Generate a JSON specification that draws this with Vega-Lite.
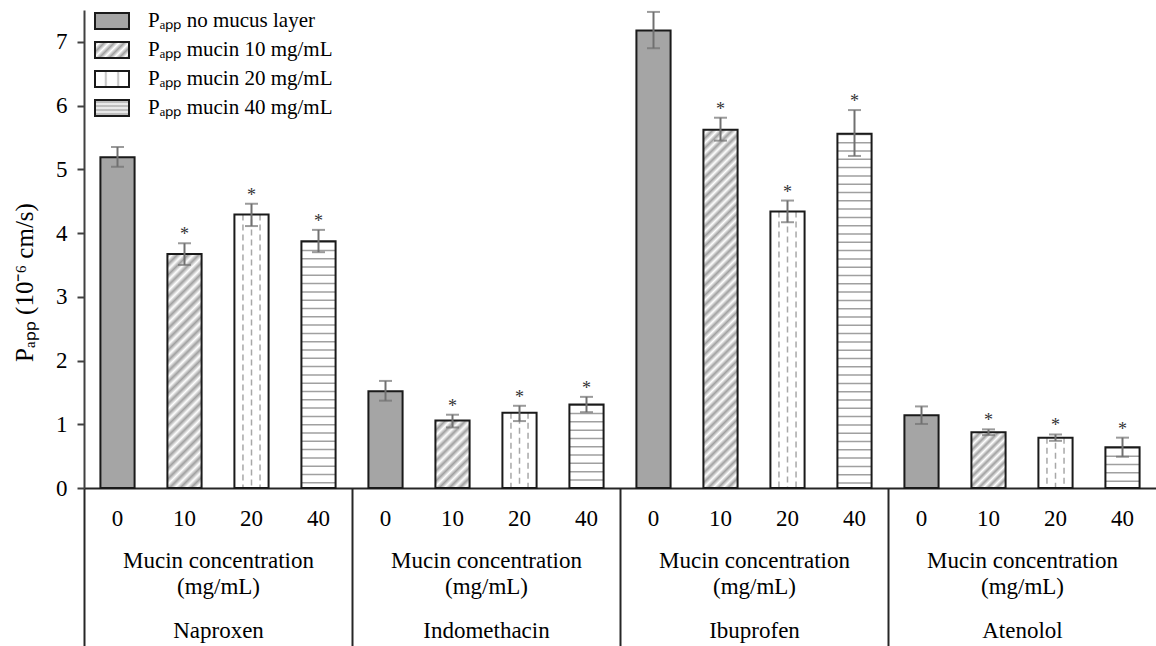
{
  "$schema": "https://vega.github.io/schema/vega-lite/v6.json",
  "width": 1072,
  "height": 478,
  "autosize": "none",
  "padding": {"left": 84, "top": 10, "right": 0, "bottom": 158},
  "background": "white",
  "config": {"font": "Liberation Serif", "view": {"stroke": null}, "axis": {"grid": false}},
  "datasets": {
    "bars": [
      {"drug": "Naproxen", "conc": "0", "key": "Naproxen|0", "series": "Pₐₚₚ no mucus layer", "mean": 5.19, "lo": 5.04, "hi": 5.35, "sig": ""},
      {"drug": "Naproxen", "conc": "10", "key": "Naproxen|10", "series": "Pₐₚₚ mucin 10 mg/mL", "mean": 3.67, "lo": 3.50, "hi": 3.84, "sig": "*"},
      {"drug": "Naproxen", "conc": "20", "key": "Naproxen|20", "series": "Pₐₚₚ mucin 20 mg/mL", "mean": 4.29, "lo": 4.11, "hi": 4.46, "sig": "*"},
      {"drug": "Naproxen", "conc": "40", "key": "Naproxen|40", "series": "Pₐₚₚ mucin 40 mg/mL", "mean": 3.87, "lo": 3.70, "hi": 4.05, "sig": "*"},
      {"drug": "Indomethacin", "conc": "0", "key": "Indomethacin|0", "series": "Pₐₚₚ no mucus layer", "mean": 1.52, "lo": 1.37, "hi": 1.68, "sig": ""},
      {"drug": "Indomethacin", "conc": "10", "key": "Indomethacin|10", "series": "Pₐₚₚ mucin 10 mg/mL", "mean": 1.06, "lo": 0.95, "hi": 1.15, "sig": "*"},
      {"drug": "Indomethacin", "conc": "20", "key": "Indomethacin|20", "series": "Pₐₚₚ mucin 20 mg/mL", "mean": 1.18, "lo": 1.05, "hi": 1.29, "sig": "*"},
      {"drug": "Indomethacin", "conc": "40", "key": "Indomethacin|40", "series": "Pₐₚₚ mucin 40 mg/mL", "mean": 1.31, "lo": 1.19, "hi": 1.43, "sig": "*"},
      {"drug": "Ibuprofen", "conc": "0", "key": "Ibuprofen|0", "series": "Pₐₚₚ no mucus layer", "mean": 7.18, "lo": 6.90, "hi": 7.47, "sig": ""},
      {"drug": "Ibuprofen", "conc": "10", "key": "Ibuprofen|10", "series": "Pₐₚₚ mucin 10 mg/mL", "mean": 5.62, "lo": 5.45, "hi": 5.81, "sig": "*"},
      {"drug": "Ibuprofen", "conc": "20", "key": "Ibuprofen|20", "series": "Pₐₚₚ mucin 20 mg/mL", "mean": 4.34, "lo": 4.17, "hi": 4.51, "sig": "*"},
      {"drug": "Ibuprofen", "conc": "40", "key": "Ibuprofen|40", "series": "Pₐₚₚ mucin 40 mg/mL", "mean": 5.56, "lo": 5.21, "hi": 5.93, "sig": "*"},
      {"drug": "Atenolol", "conc": "0", "key": "Atenolol|0", "series": "Pₐₚₚ no mucus layer", "mean": 1.14, "lo": 1.005, "hi": 1.28, "sig": ""},
      {"drug": "Atenolol", "conc": "10", "key": "Atenolol|10", "series": "Pₐₚₚ mucin 10 mg/mL", "mean": 0.875, "lo": 0.83, "hi": 0.92, "sig": "*"},
      {"drug": "Atenolol", "conc": "20", "key": "Atenolol|20", "series": "Pₐₚₚ mucin 20 mg/mL", "mean": 0.79, "lo": 0.74, "hi": 0.84, "sig": "*"},
      {"drug": "Atenolol", "conc": "40", "key": "Atenolol|40", "series": "Pₐₚₚ mucin 40 mg/mL", "mean": 0.64, "lo": 0.49, "hi": 0.79, "sig": "*"}
    ],
    "drugs": [{"drug": "Naproxen"}, {"drug": "Indomethacin"}, {"drug": "Ibuprofen"}, {"drug": "Atenolol"}]
  },
  "resolve": {"scale": {"x": "independent"}, "axis": {"x": "independent"}},
  "layer": [
    {
      "data": {"name": "bars"},
      "encoding": {
        "x": {
          "field": "key", "type": "nominal",
          "scale": {"domain": ["Naproxen|0", "Naproxen|10", "Naproxen|20", "Naproxen|40", "Indomethacin|0", "Indomethacin|10", "Indomethacin|20", "Indomethacin|40", "Ibuprofen|0", "Ibuprofen|10", "Ibuprofen|20", "Ibuprofen|40", "Atenolol|0", "Atenolol|10", "Atenolol|20", "Atenolol|40"], "paddingInner": 0.49, "paddingOuter": 0.245},
          "axis": {"orient": "bottom", "title": null, "ticks": false, "domain": true, "domainColor": "#262626", "domainWidth": 2, "labelExpr": "split(datum.label, '|')[1]", "labelAngle": 0, "labelFontSize": 23, "labelColor": "#000000", "labelBaseline": "alphabetic", "labelPadding": 37, "labelOverlap": false}
        },
        "y": {
          "field": "mean", "type": "quantitative",
          "scale": {"domain": [0, 7.5], "nice": false},
          "axis": {"title": "Pₐₚₚ (10⁻⁶ cm/s)", "values": [0, 1, 2, 3, 4, 5, 6, 7], "labelFontSize": 23, "labelColor": "#000000", "labelPadding": 10, "tickSize": 7, "tickWidth": 2, "tickColor": "#404040", "domainColor": "#404040", "domainWidth": 2, "titleFontSize": 25, "titleFontWeight": "normal", "titleColor": "#000000", "titlePadding": 18, "titleY": 272, "grid": false}
        }
      },
      "layer": [
        {
          "mark": {"type": "bar"},
          "encoding": {
            "fill": {
              "field": "series", "type": "nominal",
              "scale": {
                "domain": ["Pₐₚₚ no mucus layer", "Pₐₚₚ mucin 10 mg/mL", "Pₐₚₚ mucin 20 mg/mL", "Pₐₚₚ mucin 40 mg/mL"],
                "range": [
                  "#a5a5a5",
                  {"expr": "{gradient: 'linear', x1: 0, y1: 0, x2: 1.204, y2: 0.567, stops: [{offset: 0, color: '#a0a0a0'}, {offset: 0.1, color: '#ffffff'}, {offset: 0.2, color: '#a0a0a0'}, {offset: 0.3, color: '#ffffff'}, {offset: 0.4, color: '#a0a0a0'}, {offset: 0.5, color: '#ffffff'}, {offset: 0.6, color: '#a0a0a0'}, {offset: 0.7, color: '#ffffff'}, {offset: 0.8, color: '#a0a0a0'}, {offset: 0.9, color: '#ffffff'}, {offset: 1, color: '#a0a0a0'}]}"},
                  {"expr": "{gradient: 'linear', x1: 0, y1: 0, x2: 1, y2: 0, stops: [{offset: 0, color: '#ffffff'}, {offset: 0.27, color: '#ffffff'}, {offset: 0.32, color: '#b8b8b8'}, {offset: 0.37, color: '#ffffff'}, {offset: 0.63, color: '#ffffff'}, {offset: 0.68, color: '#b8b8b8'}, {offset: 0.73, color: '#ffffff'}, {offset: 1, color: '#ffffff'}]}"},
                  {"expr": "{gradient: 'linear', x1: 0, y1: 0, x2: 0, y2: 1, stops: [{offset: 0, color: '#ffffff'}, {offset: 0.125, color: '#a8a8a8'}, {offset: 0.25, color: '#ffffff'}, {offset: 0.375, color: '#a8a8a8'}, {offset: 0.5, color: '#ffffff'}, {offset: 0.625, color: '#a8a8a8'}, {offset: 0.75, color: '#ffffff'}, {offset: 0.875, color: '#a8a8a8'}, {offset: 1, color: '#ffffff'}]}"}
                ]
              },
              "legend": {
                "title": null, "orient": "none", "legendX": 17.5, "legendY": 0.5, "padding": 0, "direction": "vertical",
                "symbolType": "M-2,-0.94H2V0.94H-2Z", "symbolSize": 289, "symbolStrokeColor": "#1a1a1a", "symbolStrokeWidth": 2,
                "labelFontSize": 21, "labelColor": "#000000", "labelOffset": 25.5, "rowPadding": 4, "labelLimit": 400
              }
            }
          }
        },
        {
          "transform": [{"filter": "datum.conc === '20' || datum.conc === '40'"}],
          "mark": {"type": "bar", "fill": "#ffffff"}
        },
        {
          "transform": [{"filter": "datum.key === 'Naproxen|10'"}],
          "mark": {"type": "bar", "fill": {"gradient": "linear", "x1": 0, "y1": 0, "x2": 0.1639, "y2": 1.1221, "stops": [{"offset": 0, "color": "#a0a0a0"}, {"offset": 0.02, "color": "#ffffff"}, {"offset": 0.04, "color": "#a0a0a0"}, {"offset": 0.06, "color": "#ffffff"}, {"offset": 0.08, "color": "#a0a0a0"}, {"offset": 0.1, "color": "#ffffff"}, {"offset": 0.12, "color": "#a0a0a0"}, {"offset": 0.14, "color": "#ffffff"}, {"offset": 0.16, "color": "#a0a0a0"}, {"offset": 0.18, "color": "#ffffff"}, {"offset": 0.2, "color": "#a0a0a0"}, {"offset": 0.22, "color": "#ffffff"}, {"offset": 0.24, "color": "#a0a0a0"}, {"offset": 0.26, "color": "#ffffff"}, {"offset": 0.28, "color": "#a0a0a0"}, {"offset": 0.3, "color": "#ffffff"}, {"offset": 0.32, "color": "#a0a0a0"}, {"offset": 0.34, "color": "#ffffff"}, {"offset": 0.36, "color": "#a0a0a0"}, {"offset": 0.38, "color": "#ffffff"}, {"offset": 0.4, "color": "#a0a0a0"}, {"offset": 0.42, "color": "#ffffff"}, {"offset": 0.44, "color": "#a0a0a0"}, {"offset": 0.46, "color": "#ffffff"}, {"offset": 0.48, "color": "#a0a0a0"}, {"offset": 0.5, "color": "#ffffff"}, {"offset": 0.52, "color": "#a0a0a0"}, {"offset": 0.54, "color": "#ffffff"}, {"offset": 0.56, "color": "#a0a0a0"}, {"offset": 0.58, "color": "#ffffff"}, {"offset": 0.6, "color": "#a0a0a0"}, {"offset": 0.62, "color": "#ffffff"}, {"offset": 0.64, "color": "#a0a0a0"}, {"offset": 0.66, "color": "#ffffff"}, {"offset": 0.68, "color": "#a0a0a0"}, {"offset": 0.7, "color": "#ffffff"}, {"offset": 0.72, "color": "#a0a0a0"}, {"offset": 0.74, "color": "#ffffff"}, {"offset": 0.76, "color": "#a0a0a0"}, {"offset": 0.78, "color": "#ffffff"}, {"offset": 0.8, "color": "#a0a0a0"}, {"offset": 0.82, "color": "#ffffff"}, {"offset": 0.84, "color": "#a0a0a0"}, {"offset": 0.86, "color": "#ffffff"}, {"offset": 0.88, "color": "#a0a0a0"}, {"offset": 0.9, "color": "#ffffff"}, {"offset": 0.92, "color": "#a0a0a0"}, {"offset": 0.94, "color": "#ffffff"}, {"offset": 0.96, "color": "#a0a0a0"}, {"offset": 0.98, "color": "#ffffff"}, {"offset": 1, "color": "#a0a0a0"}]}}
        },
        {
          "transform": [{"filter": "datum.key === 'Indomethacin|10'"}],
          "mark": {"type": "bar", "fill": {"gradient": "linear", "x1": 0, "y1": 0, "x2": 0.6064, "y2": 1.199, "stops": [{"offset": 0, "color": "#a0a0a0"}, {"offset": 0.05, "color": "#ffffff"}, {"offset": 0.1, "color": "#a0a0a0"}, {"offset": 0.15, "color": "#ffffff"}, {"offset": 0.2, "color": "#a0a0a0"}, {"offset": 0.25, "color": "#ffffff"}, {"offset": 0.3, "color": "#a0a0a0"}, {"offset": 0.35, "color": "#ffffff"}, {"offset": 0.4, "color": "#a0a0a0"}, {"offset": 0.45, "color": "#ffffff"}, {"offset": 0.5, "color": "#a0a0a0"}, {"offset": 0.55, "color": "#ffffff"}, {"offset": 0.6, "color": "#a0a0a0"}, {"offset": 0.65, "color": "#ffffff"}, {"offset": 0.7, "color": "#a0a0a0"}, {"offset": 0.75, "color": "#ffffff"}, {"offset": 0.8, "color": "#a0a0a0"}, {"offset": 0.85, "color": "#ffffff"}, {"offset": 0.9, "color": "#a0a0a0"}, {"offset": 0.95, "color": "#ffffff"}, {"offset": 1, "color": "#a0a0a0"}]}}
        },
        {
          "transform": [{"filter": "datum.key === 'Ibuprofen|10'"}],
          "mark": {"type": "bar", "fill": {"gradient": "linear", "x1": 0, "y1": 0, "x2": 0.10355, "y2": 1.0855, "stops": [{"offset": 0, "color": "#a0a0a0"}, {"offset": 0.0125, "color": "#ffffff"}, {"offset": 0.025, "color": "#a0a0a0"}, {"offset": 0.0375, "color": "#ffffff"}, {"offset": 0.05, "color": "#a0a0a0"}, {"offset": 0.0625, "color": "#ffffff"}, {"offset": 0.075, "color": "#a0a0a0"}, {"offset": 0.0875, "color": "#ffffff"}, {"offset": 0.1, "color": "#a0a0a0"}, {"offset": 0.1125, "color": "#ffffff"}, {"offset": 0.125, "color": "#a0a0a0"}, {"offset": 0.1375, "color": "#ffffff"}, {"offset": 0.15, "color": "#a0a0a0"}, {"offset": 0.1625, "color": "#ffffff"}, {"offset": 0.175, "color": "#a0a0a0"}, {"offset": 0.1875, "color": "#ffffff"}, {"offset": 0.2, "color": "#a0a0a0"}, {"offset": 0.2125, "color": "#ffffff"}, {"offset": 0.225, "color": "#a0a0a0"}, {"offset": 0.2375, "color": "#ffffff"}, {"offset": 0.25, "color": "#a0a0a0"}, {"offset": 0.2625, "color": "#ffffff"}, {"offset": 0.275, "color": "#a0a0a0"}, {"offset": 0.2875, "color": "#ffffff"}, {"offset": 0.3, "color": "#a0a0a0"}, {"offset": 0.3125, "color": "#ffffff"}, {"offset": 0.325, "color": "#a0a0a0"}, {"offset": 0.3375, "color": "#ffffff"}, {"offset": 0.35, "color": "#a0a0a0"}, {"offset": 0.3625, "color": "#ffffff"}, {"offset": 0.375, "color": "#a0a0a0"}, {"offset": 0.3875, "color": "#ffffff"}, {"offset": 0.4, "color": "#a0a0a0"}, {"offset": 0.4125, "color": "#ffffff"}, {"offset": 0.425, "color": "#a0a0a0"}, {"offset": 0.4375, "color": "#ffffff"}, {"offset": 0.45, "color": "#a0a0a0"}, {"offset": 0.4625, "color": "#ffffff"}, {"offset": 0.475, "color": "#a0a0a0"}, {"offset": 0.4875, "color": "#ffffff"}, {"offset": 0.5, "color": "#a0a0a0"}, {"offset": 0.5125, "color": "#ffffff"}, {"offset": 0.525, "color": "#a0a0a0"}, {"offset": 0.5375, "color": "#ffffff"}, {"offset": 0.55, "color": "#a0a0a0"}, {"offset": 0.5625, "color": "#ffffff"}, {"offset": 0.575, "color": "#a0a0a0"}, {"offset": 0.5875, "color": "#ffffff"}, {"offset": 0.6, "color": "#a0a0a0"}, {"offset": 0.6125, "color": "#ffffff"}, {"offset": 0.625, "color": "#a0a0a0"}, {"offset": 0.6375, "color": "#ffffff"}, {"offset": 0.65, "color": "#a0a0a0"}, {"offset": 0.6625, "color": "#ffffff"}, {"offset": 0.675, "color": "#a0a0a0"}, {"offset": 0.6875, "color": "#ffffff"}, {"offset": 0.7, "color": "#a0a0a0"}, {"offset": 0.7125, "color": "#ffffff"}, {"offset": 0.725, "color": "#a0a0a0"}, {"offset": 0.7375, "color": "#ffffff"}, {"offset": 0.75, "color": "#a0a0a0"}, {"offset": 0.7625, "color": "#ffffff"}, {"offset": 0.775, "color": "#a0a0a0"}, {"offset": 0.7875, "color": "#ffffff"}, {"offset": 0.8, "color": "#a0a0a0"}, {"offset": 0.8125, "color": "#ffffff"}, {"offset": 0.825, "color": "#a0a0a0"}, {"offset": 0.8375, "color": "#ffffff"}, {"offset": 0.85, "color": "#a0a0a0"}, {"offset": 0.8625, "color": "#ffffff"}, {"offset": 0.875, "color": "#a0a0a0"}, {"offset": 0.8875, "color": "#ffffff"}, {"offset": 0.9, "color": "#a0a0a0"}, {"offset": 0.9125, "color": "#ffffff"}, {"offset": 0.925, "color": "#a0a0a0"}, {"offset": 0.9375, "color": "#ffffff"}, {"offset": 0.95, "color": "#a0a0a0"}, {"offset": 0.9625, "color": "#ffffff"}, {"offset": 0.975, "color": "#a0a0a0"}, {"offset": 0.9875, "color": "#ffffff"}, {"offset": 1, "color": "#a0a0a0"}]}}
        },
        {
          "transform": [{"filter": "datum.key === 'Atenolol|10'"}],
          "mark": {"type": "bar", "fill": {"gradient": "linear", "x1": 0, "y1": 0, "x2": 0.7184, "y2": 1.1725, "stops": [{"offset": 0, "color": "#a0a0a0"}, {"offset": 0.05, "color": "#ffffff"}, {"offset": 0.1, "color": "#a0a0a0"}, {"offset": 0.15, "color": "#ffffff"}, {"offset": 0.2, "color": "#a0a0a0"}, {"offset": 0.25, "color": "#ffffff"}, {"offset": 0.3, "color": "#a0a0a0"}, {"offset": 0.35, "color": "#ffffff"}, {"offset": 0.4, "color": "#a0a0a0"}, {"offset": 0.45, "color": "#ffffff"}, {"offset": 0.5, "color": "#a0a0a0"}, {"offset": 0.55, "color": "#ffffff"}, {"offset": 0.6, "color": "#a0a0a0"}, {"offset": 0.65, "color": "#ffffff"}, {"offset": 0.7, "color": "#a0a0a0"}, {"offset": 0.75, "color": "#ffffff"}, {"offset": 0.8, "color": "#a0a0a0"}, {"offset": 0.85, "color": "#ffffff"}, {"offset": 0.9, "color": "#a0a0a0"}, {"offset": 0.95, "color": "#ffffff"}, {"offset": 1, "color": "#a0a0a0"}]}}
        },
        {
          "transform": [{"filter": "datum.conc === '20'"}],
          "mark": {"type": "rule", "color": "#a8a8a8", "strokeWidth": 1.5, "strokeDash": [6, 4], "strokeCap": "butt"},
          "encoding": {"x": {"field": "key", "type": "nominal", "bandPosition": 0.25}, "y2": {"datum": 0}}
        },
        {
          "transform": [{"filter": "datum.conc === '20'"}],
          "mark": {"type": "rule", "color": "#a8a8a8", "strokeWidth": 1.5, "strokeDash": [6, 4], "strokeDashOffset": 5, "strokeCap": "butt"},
          "encoding": {"x": {"field": "key", "type": "nominal", "bandPosition": 0.5}, "y2": {"datum": 0}}
        },
        {
          "transform": [{"filter": "datum.conc === '20'"}],
          "mark": {"type": "rule", "color": "#a8a8a8", "strokeWidth": 1.5, "strokeDash": [6, 4], "strokeCap": "butt"},
          "encoding": {"x": {"field": "key", "type": "nominal", "bandPosition": 0.75}, "y2": {"datum": 0}}
        },
        {
          "transform": [{"filter": "datum.conc === '40'"}],
          "mark": {"type": "rule", "color": "#a0a0a0", "strokeWidth": 33, "strokeDash": [1.5, 6.8], "strokeCap": "butt"},
          "encoding": {"y2": {"datum": 0}}
        },
        {
          "mark": {"type": "bar", "fillOpacity": 0, "stroke": "#1a1a1a", "strokeWidth": 2}
        },
        {
          "mark": {"type": "rule", "color": "#707070", "strokeWidth": 2},
          "encoding": {"y": {"field": "lo", "type": "quantitative"}, "y2": {"field": "hi"}}
        },
        {
          "mark": {"type": "tick", "color": "#707070", "thickness": 2, "size": 13, "orient": "horizontal"},
          "encoding": {"y": {"field": "lo", "type": "quantitative"}}
        },
        {
          "mark": {"type": "tick", "color": "#707070", "thickness": 2, "size": 13, "orient": "horizontal"},
          "encoding": {"y": {"field": "hi", "type": "quantitative"}}
        },
        {
          "mark": {"type": "text", "fontSize": 18, "color": "#333333", "baseline": "alphabetic", "dy": -3},
          "encoding": {"y": {"field": "hi", "type": "quantitative"}, "text": {"field": "sig"}}
        }
      ]
    },
    {
      "data": {"name": "drugs"},
      "mark": {"type": "text", "text": ""},
      "encoding": {
        "x": {
          "field": "drug", "type": "nominal",
          "scale": {"domain": ["Naproxen", "Indomethacin", "Ibuprofen", "Atenolol"], "paddingInner": 0, "paddingOuter": 0},
          "axis": {"orient": "bottom", "title": null, "tickBand": "extent", "ticks": true, "tickSize": 158, "tickWidth": 2, "tickColor": "#262626", "tickOpacity": {"condition": {"test": "datum.value === 'Atenolol'", "value": 0}, "value": 1}, "labels": false, "domain": false}
        }
      }
    },
    {
      "data": {"name": "drugs"},
      "mark": {"type": "text", "text": ""},
      "encoding": {
        "x": {
          "field": "drug", "type": "nominal",
          "scale": {"domain": ["Naproxen", "Indomethacin", "Ibuprofen", "Atenolol"], "paddingInner": 0, "paddingOuter": 0},
          "axis": {"orient": "bottom", "title": null, "ticks": false, "domain": false, "labelExpr": "['Mucin concentration', '(mg/mL)']", "labelAngle": 0, "labelFontSize": 23, "labelColor": "#000000", "labelBaseline": "alphabetic", "labelPadding": 79, "labelLineHeight": 26, "labelLimit": 400, "labelOverlap": false}
        }
      }
    },
    {
      "data": {"name": "drugs"},
      "mark": {"type": "text", "text": ""},
      "encoding": {
        "x": {
          "field": "drug", "type": "nominal",
          "scale": {"domain": ["Naproxen", "Indomethacin", "Ibuprofen", "Atenolol"], "paddingInner": 0, "paddingOuter": 0},
          "axis": {"orient": "bottom", "title": null, "ticks": false, "domain": false, "labelAngle": 0, "labelFontSize": 23, "labelColor": "#000000", "labelBaseline": "alphabetic", "labelPadding": 149, "labelLimit": 400, "labelOverlap": false}
        }
      }
    }
  ]
}
